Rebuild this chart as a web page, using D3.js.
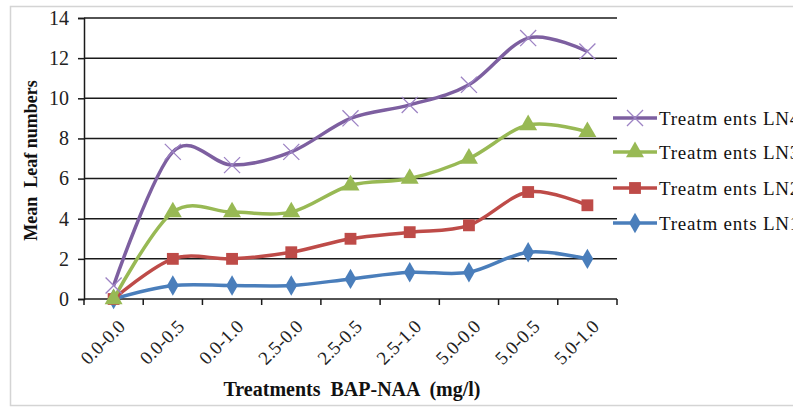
<!DOCTYPE html>
<html>
<head>
<meta charset="utf-8">
<script src="https://cdn.jsdelivr.net/npm/d3@7"></script>
<style>
    body { margin: 0; background: #fff; }
    svg { display: block; font-family: "Liberation Serif", "Times New Roman", serif; }
</style>
</head>
<body>
<div id="chart"></div>
<script>
// Chart data
const categories = ['0.0-0.0', '0.0-0.5', '0.0-1.0', '2.5-0.0', '2.5-0.5', '2.5-1.0', '5.0-0.0', '5.0-0.5', '5.0-1.0'];
const ln1 = [0, 0.67, 0.67, 0.67, 1.0, 1.33, 1.33, 2.33, 2.0];
const ln2 = [0, 2.0, 2.0, 2.33, 3.0, 3.33, 3.67, 5.33, 4.67];
const ln3 = [0, 4.33, 4.33, 4.33, 5.67, 6.0, 7.0, 8.67, 8.33];
const ln4 = [0.67, 7.33, 6.67, 7.33, 9.0, 9.67, 10.67, 13.0, 12.33];
const yTicks = [0, 2, 4, 6, 8, 10, 12, 14];

const series = [
    { name: 'Treatm ents LN4', values: ln4, color: '#7d5fa0', marker: 'cross' },
    { name: 'Treatm ents LN3', values: ln3, color: '#98b954', marker: 'triangle' },
    { name: 'Treatm ents LN2', values: ln2, color: '#be4b48', marker: 'square' },
    { name: 'Treatm ents LN1', values: ln1, color: '#4a7ebb', marker: 'diamond' }
];

const width = 793, height = 407;
const margin = { top: 18, left: 84, right: 176, bottom: 108 };

const svg = d3.select('#chart').append('svg')
    .attr('width', width)
    .attr('height', height);

// Outer frame
svg.append('rect')
    .attr('x', 10.5).attr('y', 6.5)
    .attr('width', 800).attr('height', 399)
    .attr('fill', 'none')
    .attr('stroke', '#d4d4d4')
    .attr('stroke-width', 1.5);

const x = d3.scaleBand()
    .domain(categories)
    .range([margin.left, width - margin.right]);

const y = d3.scaleLinear()
    .domain([0, 14])
    .range([height - margin.bottom, margin.top]);

// Grid lines
svg.append('g')
    .selectAll('line')
    .data(yTicks.filter(d => d > 0))
    .enter().append('line')
    .attr('x1', margin.left).attr('x2', width - margin.right)
    .attr('y1', d => y(d)).attr('y2', d => y(d))
    .attr('stroke', '#1a1a1a')
    .attr('stroke-width', 1.5);

// Y axis
const yAxis = svg.append('g')
    .attr('transform', `translate(${margin.left},0)`)
    .call(d3.axisLeft(y).tickValues(yTicks).tickSize(6).tickPadding(9));
yAxis.select('.domain').attr('stroke', '#1a1a1a').attr('stroke-width', 1.5);
yAxis.selectAll('.tick line').attr('stroke', '#1a1a1a').attr('stroke-width', 1.5);
yAxis.selectAll('.tick text')
    .attr('font-size', 20)
    .attr('font-family', '"Liberation Serif", serif')
    .attr('fill', '#222');

// X axis with ticks between categories
const xAxisG = svg.append('g')
    .attr('transform', `translate(0,${y(0)})`);
xAxisG.append('line')
    .attr('x1', margin.left).attr('x2', width - margin.right)
    .attr('stroke', '#1a1a1a').attr('stroke-width', 1.5);
const tickPositions = categories.map(c => x(c)).concat([x.range()[1]]);
xAxisG.selectAll('.xtick')
    .data(tickPositions)
    .enter().append('line')
    .attr('class', 'xtick')
    .attr('x1', d => d).attr('x2', d => d)
    .attr('y1', 0).attr('y2', 6)
    .attr('stroke', '#1a1a1a').attr('stroke-width', 1.5);
xAxisG.selectAll('.xlabel')
    .data(categories)
    .enter().append('text')
    .attr('class', 'xlabel')
    .attr('transform', d => `translate(${x(d) + x.bandwidth() / 2 + 8},24) rotate(-45)`)
    .attr('text-anchor', 'end')
    .attr('dy', '0.35em')
    .attr('font-size', 19)
    .attr('fill', '#222')
    .text(d => d);

// Lines
const line = d3.line()
    .x((d, i) => x(categories[i]) + x.bandwidth() / 2)
    .y(d => y(d))
    .curve(d3.curveCatmullRom.alpha(0));

const symbolFor = {
    diamond: d3.symbol().type(d3.symbolDiamond).size(120),
    square: d3.symbol().type(d3.symbolSquare).size(140),
    triangle: d3.symbol().type(d3.symbolTriangle).size(140),
    cross: d3.symbol().type(d3.symbolX).size(170)
};

function drawMarker(g, s) {
    const p = g.append('path')
        .attr('d', symbolFor[s.marker]());
    if (s.marker === 'cross') {
        p.attr('fill', 'none').attr('stroke', '#9d83c4').attr('stroke-width', 1.3);
    } else {
        p.attr('fill', s.color);
    }
    return p;
}

// Draw in order LN1 first so LN4 is on top
series.slice().reverse().forEach(s => {
    svg.append('path')
        .datum(s.values)
        .attr('fill', 'none')
        .attr('stroke', s.color)
        .attr('stroke-width', 3.5)
        .attr('d', line);
    s.values.forEach((v, i) => {
        const g = svg.append('g')
            .attr('transform', `translate(${x(categories[i]) + x.bandwidth() / 2},${y(v)})`);
        drawMarker(g, s);
    });
});

// Legend
const legend = svg.append('g');
const legendY = [118, 152, 188, 223];
series.forEach((s, i) => {
    const g = legend.append('g').attr('transform', `translate(613,${legendY[i]})`);
    g.append('line')
        .attr('x1', 0).attr('x2', 44)
        .attr('stroke', s.color).attr('stroke-width', 3.5);
    const m = g.append('g').attr('transform', 'translate(22,0)');
    drawMarker(m, s);
    g.append('text')
        .attr('x', 46).attr('dy', '0.35em')
        .attr('font-size', 19)
        .attr('letter-spacing', 0.8)
        .attr('fill', '#111')
        .attr('xml:space', 'preserve')
        .text(s.name);
});

// Axis titles
svg.append('text')
    .attr('transform', `translate(37,${(y(0) + y(14)) / 2 + 2}) rotate(-90)`)
    .attr('text-anchor', 'middle')
    .attr('font-weight', 'bold')
    .attr('font-size', 18)
    .attr('fill', '#111')
    .attr('xml:space', 'preserve')
    .text('Mean  Leaf numbers');

svg.append('text')
    .attr('x', 352).attr('y', 396)
    .attr('text-anchor', 'middle')
    .attr('font-weight', 'bold')
    .attr('font-size', 20)
    .attr('fill', '#111')
    .attr('xml:space', 'preserve')
    .text('Treatments  BAP-NAA  (mg/l)');
</script>
</body>
</html>
